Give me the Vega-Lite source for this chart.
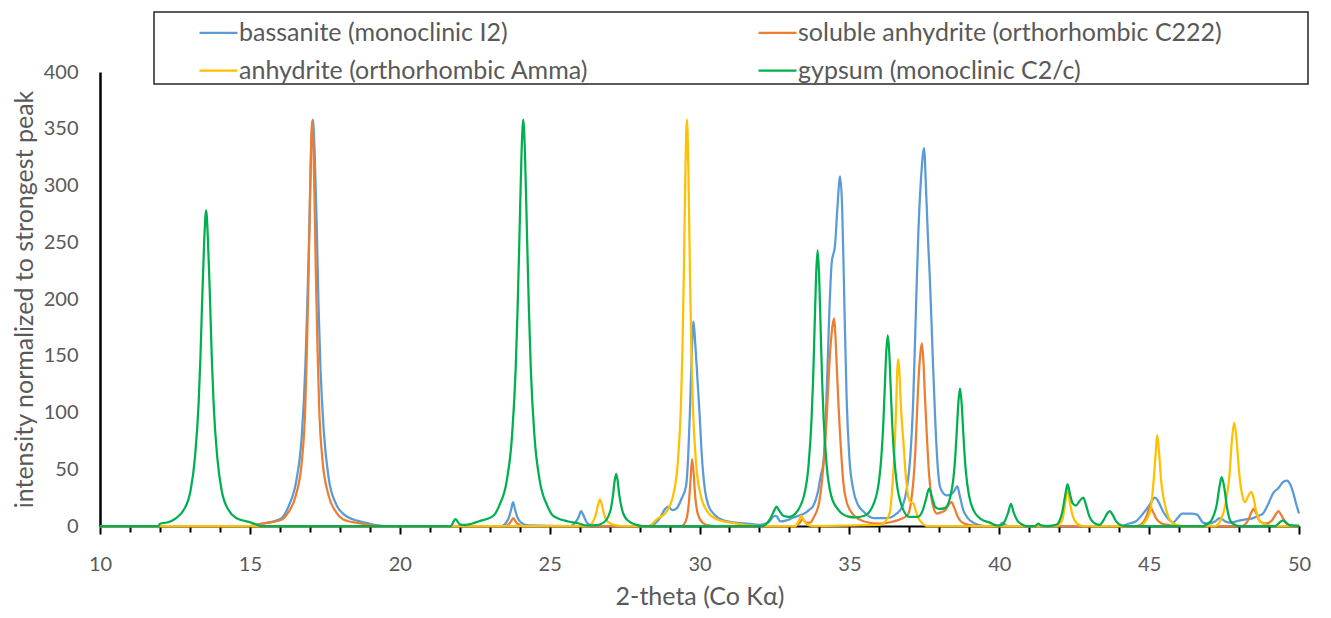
{
  "$schema": "https://vega.github.io/schema/vega-lite/v6.json",
  "width": 1199,
  "height": 454,
  "autosize": "none",
  "padding": {"left": 100, "top": 72, "right": 32, "bottom": 92},
  "config": {
    "view": {"stroke": null},
    "font": "Lato",
    "line": {"strokeWidth": 2.25, "interpolate": "monotone"},
    "legend": {"strokeWidth": 1.5}
  },
  "encoding": {
    "x": {
      "field": "x", "type": "quantitative", "title": "2-theta (Co Kα)",
      "scale": {"domain": [10, 50], "nice": false, "zero": false},
      "axis": {
        "values": [10,11,12,13,14,15,16,17,18,19,20,21,22,23,24,25,26,27,28,29,30,31,32,33,34,35,36,37,38,39,40,41,42,43,44,45,46,47,48,49,50],
        "labelExpr": "datum.value % 5 === 0 ? datum.label : ''",
        "labelFlush": false, "labelOverlap": false,
        "tickSize": {"condition": {"test": "datum.value % 5 === 0", "value": 8}, "value": 6},
        "tickColor": "#000", "tickWidth": 2, "domainColor": "#000", "domainWidth": 2,
        "grid": false, "labelFontSize": 20, "labelColor": "#595959", "labelPadding": 20,
        "titleFontSize": 25, "titleColor": "#595959", "titleFontWeight": "normal", "titlePadding": 10
      }
    },
    "y": {
      "field": "y", "type": "quantitative", "title": "intensity normalized to strongest peak",
      "scale": {"domain": [0, 400], "nice": false},
      "axis": {
        "values": [0,50,100,150,200,250,300,350,400],
        "labelFlush": false,
        "ticks": false, "grid": false, "domainColor": "#000", "domainWidth": 2.5,
        "labelFontSize": 20, "labelColor": "#595959", "labelPadding": 22,
        "titleFontSize": 25, "titleColor": "#595959", "titleFontWeight": "normal", "titlePadding": 6
      }
    }
  },
  "layer": [
    {
      "data": {"values": [
        {"x":10,"y":0},{"x":15,"y":0},{"x":15.3,"y":1.5},{"x":15.6,"y":3},{"x":15.9,"y":5},{"x":16.1,"y":8},{"x":16.3,"y":18},{"x":16.55,"y":40},{"x":16.73,"y":79},{"x":16.85,"y":140},{"x":16.91,"y":190},{"x":16.98,"y":257},{"x":17.04,"y":326},{"x":17.1,"y":358},{"x":17.16,"y":330},{"x":17.23,"y":265},{"x":17.29,"y":195},{"x":17.35,"y":143},{"x":17.47,"y":82},{"x":17.63,"y":42},{"x":17.88,"y":19},{"x":18.15,"y":10},{"x":18.6,"y":4.5},{"x":19.0,"y":2},{"x":19.3,"y":0.5},{"x":19.5,"y":0},
        {"x":23.4,"y":0},{"x":23.55,"y":3},{"x":23.65,"y":8},{"x":23.72,"y":15},{"x":23.78,"y":21},{"x":23.84,"y":15},{"x":23.92,"y":8},{"x":24.05,"y":3},{"x":24.3,"y":0.5},
        {"x":25.7,"y":0},{"x":25.85,"y":3},{"x":25.97,"y":8},{"x":26.05,"y":13},{"x":26.12,"y":10},{"x":26.22,"y":4},{"x":26.35,"y":1},{"x":26.6,"y":0},
        {"x":28.3,"y":0},{"x":28.5,"y":2},{"x":28.68,"y":7},{"x":28.85,"y":15},{"x":28.95,"y":17},{"x":29.1,"y":14},{"x":29.25,"y":16},{"x":29.4,"y":24},{"x":29.55,"y":35},{"x":29.62,"y":60},{"x":29.68,"y":100},{"x":29.74,"y":150},{"x":29.8,"y":180},{"x":29.86,"y":160},{"x":29.93,"y":130},{"x":30.0,"y":100},{"x":30.07,"y":65},{"x":30.18,"y":32},{"x":30.3,"y":18},{"x":30.5,"y":10},{"x":30.8,"y":5},{"x":31.2,"y":3},{"x":31.6,"y":2},{"x":32.0,"y":1},
        {"x":32.3,"y":3},{"x":32.45,"y":8},{"x":32.55,"y":9},{"x":32.7,"y":4},{"x":32.9,"y":5},{"x":33.1,"y":7},{"x":33.3,"y":9},{"x":33.5,"y":11},{"x":33.65,"y":14},{"x":33.8,"y":18},{"x":33.95,"y":30},{"x":34.05,"y":45},{"x":34.13,"y":55},{"x":34.22,"y":100},{"x":34.32,"y":180},{"x":34.41,"y":232},{"x":34.52,"y":247},{"x":34.6,"y":280},{"x":34.69,"y":308},{"x":34.76,"y":280},{"x":34.83,"y":200},{"x":34.91,"y":111},{"x":35.0,"y":60},{"x":35.13,"y":32},{"x":35.3,"y":18},{"x":35.46,"y":13},{"x":35.8,"y":7},{"x":36.25,"y":7},{"x":36.58,"y":11},{"x":36.78,"y":18},{"x":36.91,"y":32},{"x":37.03,"y":60},{"x":37.13,"y":111},{"x":37.22,"y":190},{"x":37.3,"y":258},{"x":37.4,"y":310},{"x":37.49,"y":333},{"x":37.56,"y":295},{"x":37.62,"y":255},{"x":37.69,"y":215},{"x":37.78,"y":150},{"x":37.86,"y":96},{"x":37.94,"y":55},{"x":38.02,"y":35},{"x":38.13,"y":29},{"x":38.25,"y":27},{"x":38.4,"y":28},{"x":38.5,"y":31},{"x":38.6,"y":35},{"x":38.68,"y":27},{"x":38.8,"y":14},{"x":38.95,"y":7},{"x":39.13,"y":3},{"x":39.3,"y":1},{"x":39.5,"y":0},
        {"x":40.0,"y":0},{"x":40.1,"y":3},{"x":40.2,"y":1},{"x":40.3,"y":0},
        {"x":44.1,"y":0},{"x":44.3,"y":2},{"x":44.55,"y":4},{"x":44.8,"y":11},{"x":45.0,"y":18},{"x":45.2,"y":25},{"x":45.3,"y":22},{"x":45.47,"y":12.6},{"x":45.65,"y":6},{"x":45.8,"y":3},{"x":45.95,"y":7},{"x":46.1,"y":11},{"x":46.4,"y":11},{"x":46.6,"y":10},{"x":46.8,"y":3},{"x":47.0,"y":2},{"x":47.2,"y":4},{"x":47.36,"y":7},{"x":47.55,"y":4},{"x":47.7,"y":3},{"x":48.03,"y":5},{"x":48.25,"y":6},{"x":48.47,"y":7},{"x":48.65,"y":9},{"x":48.8,"y":11},{"x":48.95,"y":18},{"x":49.14,"y":29},{"x":49.3,"y":33},{"x":49.48,"y":39},{"x":49.6,"y":40},{"x":49.7,"y":37},{"x":49.81,"y":29},{"x":49.9,"y":20},{"x":50.0,"y":11}
      ]},
      "mark": "line",
      "encoding": {
        "color": {
          "datum": "bassanite (monoclinic I2)", "type": "nominal",
          "scale": {
            "domain": ["bassanite (monoclinic I2)", "anhydrite (orthorhombic Amma)", "soluble anhydrite (orthorhombic C222)", "gypsum (monoclinic C2/c)"],
            "range": ["#5B9BD5", "#FFC000", "#ED7D31", "#00B050"]
          },
          "legend": {
            "title": " ", "titleOrient": "right", "titlePadding": 86, "titleFontSize": 10,
            "orient": "none", "legendX": 54, "legendY": -60, "columns": 2,
            "symbolType": "stroke", "symbolSize": 1444, "symbolStrokeWidth": 2.5, "symbolOffset": 44,
            "labelFontSize": 25, "labelColor": "#595959", "labelOffset": 0, "labelLimit": 600,
            "padding": 0, "rowPadding": 4, "columnPadding": 124,
            "strokeColor": "#262626"
          }
        }
      }
    },
    {
      "data": {"values": [
        {"x":10,"y":0},{"x":15.0,"y":0},{"x":15.3,"y":1.5},{"x":15.58,"y":2.7},{"x":16.08,"y":6},{"x":16.28,"y":12},{"x":16.54,"y":27.5},{"x":16.73,"y":56},{"x":16.85,"y":106},{"x":16.9,"y":153},{"x":16.96,"y":224},{"x":17.02,"y":311},{"x":17.08,"y":357},{"x":17.14,"y":311},{"x":17.2,"y":224},{"x":17.26,"y":153},{"x":17.31,"y":106},{"x":17.43,"y":56},{"x":17.62,"y":27.5},{"x":17.88,"y":12},{"x":18.1,"y":6},{"x":18.58,"y":2.7},{"x":19.0,"y":1},{"x":19.3,"y":0},
        {"x":23.5,"y":0},{"x":23.65,"y":2},{"x":23.73,"y":5},{"x":23.78,"y":7},{"x":23.84,"y":5},{"x":23.92,"y":2},{"x":24.1,"y":0},
        {"x":29.4,"y":0},{"x":29.55,"y":5},{"x":29.65,"y":22},{"x":29.7,"y":40},{"x":29.75,"y":59},{"x":29.8,"y":48},{"x":29.86,"y":25},{"x":29.95,"y":10},{"x":30.1,"y":3},{"x":30.3,"y":0.5},{"x":30.6,"y":0},
        {"x":33.2,"y":0},{"x":33.35,"y":3},{"x":33.45,"y":6},{"x":33.55,"y":3},{"x":33.7,"y":3},{"x":33.8,"y":7},{"x":34.0,"y":22},{"x":34.13,"y":52},{"x":34.2,"y":75},{"x":34.27,"y":110},{"x":34.35,"y":150},{"x":34.43,"y":175},{"x":34.49,"y":183},{"x":34.53,"y":170},{"x":34.58,"y":140},{"x":34.64,"y":105},{"x":34.69,"y":80},{"x":34.75,"y":55},{"x":34.8,"y":38},{"x":34.9,"y":22},{"x":35.02,"y":14},{"x":35.2,"y":8},{"x":35.5,"y":4},{"x":36.0,"y":2},{"x":36.4,"y":3.5},{"x":36.7,"y":6},{"x":36.95,"y":10},{"x":37.05,"y":20},{"x":37.13,"y":38},{"x":37.2,"y":65},{"x":37.25,"y":96},{"x":37.32,"y":135},{"x":37.38,"y":155},{"x":37.42,"y":161},{"x":37.47,"y":145},{"x":37.52,"y":115},{"x":37.58,"y":82},{"x":37.66,"y":45},{"x":37.75,"y":23},{"x":37.85,"y":13},{"x":37.92,"y":11},{"x":38.05,"y":12},{"x":38.2,"y":14},{"x":38.32,"y":19},{"x":38.41,"y":21},{"x":38.5,"y":16},{"x":38.62,"y":8},{"x":38.77,"y":3},{"x":39.0,"y":1},{"x":39.3,"y":0},
        {"x":44.6,"y":0},{"x":44.8,"y":3},{"x":44.93,"y":10},{"x":45.03,"y":17},{"x":45.12,"y":13},{"x":45.25,"y":6},{"x":45.4,"y":2.5},{"x":45.6,"y":1},{"x":46.0,"y":0},
        {"x":48.1,"y":0},{"x":48.3,"y":5},{"x":48.41,"y":12},{"x":48.48,"y":15},{"x":48.56,"y":12},{"x":48.7,"y":4},{"x":48.9,"y":2},{"x":49.1,"y":5},{"x":49.22,"y":10},{"x":49.31,"y":13},{"x":49.4,"y":10},{"x":49.55,"y":3},{"x":49.7,"y":0.5},{"x":50.0,"y":0}
      ]},
      "mark": "line",
      "encoding": {"color": {"datum": "soluble anhydrite (orthorhombic C222)", "type": "nominal"}}
    },
    {
      "data": {"values": [
        {"x":10,"y":0},{"x":26.3,"y":0},{"x":26.45,"y":4},{"x":26.55,"y":11},{"x":26.62,"y":19},{"x":26.68,"y":23.5},{"x":26.74,"y":19},{"x":26.82,"y":10},{"x":26.95,"y":3.5},{"x":27.15,"y":1},{"x":27.4,"y":0},
        {"x":28.3,"y":0},{"x":28.58,"y":6},{"x":28.88,"y":12},{"x":29.13,"y":28},{"x":29.28,"y":57},{"x":29.38,"y":106},{"x":29.43,"y":154},{"x":29.48,"y":225},{"x":29.53,"y":312},{"x":29.58,"y":358},{"x":29.63,"y":312},{"x":29.68,"y":225},{"x":29.73,"y":154},{"x":29.78,"y":106},{"x":29.88,"y":57},{"x":30.03,"y":28},{"x":30.28,"y":12},{"x":30.58,"y":6},{"x":31.08,"y":2.7},{"x":31.5,"y":1},{"x":32.0,"y":0},
        {"x":33.2,"y":0},{"x":33.3,"y":4},{"x":33.4,"y":9},{"x":33.5,"y":4},{"x":33.65,"y":0.5},{"x":33.8,"y":0},
        {"x":36.0,"y":1},{"x":36.2,"y":4},{"x":36.35,"y":12},{"x":36.42,"y":30},{"x":36.5,"y":62},{"x":36.56,"y":105},{"x":36.6,"y":138},{"x":36.63,"y":147},{"x":36.67,"y":135},{"x":36.72,"y":105},{"x":36.8,"y":75},{"x":36.88,"y":45},{"x":36.97,"y":25},{"x":37.05,"y":21},{"x":37.13,"y":20},{"x":37.22,"y":13},{"x":37.3,"y":7},{"x":37.45,"y":2},{"x":37.6,"y":0},
        {"x":41.9,"y":0},{"x":42.1,"y":5},{"x":42.2,"y":20},{"x":42.28,"y":33},{"x":42.36,"y":20},{"x":42.46,"y":8},{"x":42.6,"y":2},{"x":42.8,"y":0},
        {"x":44.7,"y":0},{"x":44.9,"y":5},{"x":45.05,"y":15},{"x":45.15,"y":40},{"x":45.22,"y":65},{"x":45.27,"y":80},{"x":45.33,"y":65},{"x":45.4,"y":40},{"x":45.5,"y":22},{"x":45.57,"y":14},{"x":45.7,"y":5},{"x":45.9,"y":1},{"x":46.1,"y":0},
        {"x":47.2,"y":0},{"x":47.4,"y":6},{"x":47.58,"y":24},{"x":47.68,"y":45},{"x":47.76,"y":75},{"x":47.84,"y":91},{"x":47.92,"y":75},{"x":48.0,"y":48},{"x":48.1,"y":28},{"x":48.2,"y":21},{"x":48.3,"y":26},{"x":48.4,"y":30},{"x":48.48,"y":25},{"x":48.58,"y":12},{"x":48.7,"y":4},{"x":48.9,"y":1},{"x":49.1,"y":0},{"x":50.0,"y":0}
      ]},
      "mark": "line",
      "encoding": {"color": {"datum": "anhydrite (orthorhombic Amma)", "type": "nominal"}}
    },
    {
      "data": {"values": [
        {"x":10,"y":0},{"x":11.95,"y":0},{"x":12.0,"y":2},{"x":12.3,"y":3.5},{"x":12.54,"y":7},{"x":12.79,"y":14},{"x":13.02,"y":31},{"x":13.17,"y":61},{"x":13.29,"y":108},{"x":13.35,"y":148},{"x":13.41,"y":200},{"x":13.48,"y":253},{"x":13.54,"y":278},{"x":13.6,"y":253},{"x":13.67,"y":200},{"x":13.73,"y":148},{"x":13.79,"y":108},{"x":13.91,"y":61},{"x":14.06,"y":31},{"x":14.29,"y":14},{"x":14.54,"y":7},{"x":15.04,"y":3},{"x":15.25,"y":1},{"x":15.35,"y":0},
        {"x":21.7,"y":0},{"x":21.86,"y":6},{"x":22.0,"y":1.5},{"x":22.2,"y":1},{"x":22.4,"y":2},{"x":22.62,"y":4},{"x":23.12,"y":9},{"x":23.32,"y":18},{"x":23.57,"y":40},{"x":23.745,"y":79},{"x":23.87,"y":140},{"x":23.93,"y":190},{"x":23.995,"y":257},{"x":24.06,"y":326},{"x":24.12,"y":358},{"x":24.18,"y":326},{"x":24.245,"y":257},{"x":24.31,"y":190},{"x":24.37,"y":140},{"x":24.495,"y":79},{"x":24.67,"y":40},{"x":24.92,"y":18},{"x":25.12,"y":9},{"x":25.62,"y":4},{"x":26.0,"y":2},{"x":26.2,"y":0.5},{"x":26.5,"y":0.5},
        {"x":26.8,"y":3},{"x":26.95,"y":8},{"x":27.05,"y":16},{"x":27.12,"y":28},{"x":27.17,"y":40},{"x":27.22,"y":46},{"x":27.27,"y":40},{"x":27.32,"y":28},{"x":27.42,"y":14},{"x":27.6,"y":5},{"x":27.9,"y":1},{"x":28.1,"y":0},
        {"x":32.1,"y":0},{"x":32.35,"y":6},{"x":32.5,"y":14},{"x":32.57,"y":17},{"x":32.65,"y":14},{"x":32.8,"y":9},{"x":33.0,"y":8},{"x":33.2,"y":11},{"x":33.49,"y":27},{"x":33.64,"y":54},{"x":33.74,"y":95},{"x":33.79,"y":129},{"x":33.84,"y":175},{"x":33.89,"y":221},{"x":33.94,"y":243},{"x":33.99,"y":221},{"x":34.04,"y":175},{"x":34.09,"y":129},{"x":34.14,"y":95},{"x":34.24,"y":54},{"x":34.39,"y":27},{"x":34.64,"y":14},{"x":34.94,"y":8.5},{"x":35.2,"y":7.5},{"x":35.5,"y":9},{"x":35.75,"y":16},{"x":35.98,"y":38},{"x":36.08,"y":66},{"x":36.13,"y":89},{"x":36.18,"y":121},{"x":36.23,"y":153},{"x":36.28,"y":168},{"x":36.33,"y":153},{"x":36.38,"y":121},{"x":36.43,"y":89},{"x":36.48,"y":66},{"x":36.58,"y":38},{"x":36.73,"y":19},{"x":37.0,"y":8},{"x":37.28,"y":8},{"x":37.45,"y":14},{"x":37.56,"y":24},{"x":37.66,"y":33},{"x":37.76,"y":25},{"x":37.86,"y":17},{"x":38.0,"y":15},{"x":38.2,"y":16},{"x":38.35,"y":24},{"x":38.49,"y":47},{"x":38.54,"y":64},{"x":38.59,"y":87},{"x":38.64,"y":110},{"x":38.69,"y":121},{"x":38.74,"y":110},{"x":38.79,"y":87},{"x":38.84,"y":64},{"x":38.89,"y":47},{"x":38.99,"y":27},{"x":39.14,"y":14},{"x":39.39,"y":6},{"x":39.69,"y":3},{"x":39.9,"y":0.5},
        {"x":40.1,"y":1},{"x":40.2,"y":5},{"x":40.3,"y":12},{"x":40.39,"y":19.5},{"x":40.48,"y":12},{"x":40.6,"y":5},{"x":40.75,"y":1.5},{"x":40.9,"y":0},{"x":41.2,"y":0},{"x":41.3,"y":2},{"x":41.4,"y":0.5},{"x":41.6,"y":0},
        {"x":41.9,"y":1},{"x":42.0,"y":4},{"x":42.1,"y":12},{"x":42.2,"y":27},{"x":42.28,"y":37},{"x":42.36,"y":28},{"x":42.45,"y":20},{"x":42.56,"y":18},{"x":42.68,"y":22},{"x":42.8,"y":25},{"x":42.9,"y":18},{"x":43.0,"y":9},{"x":43.15,"y":3},{"x":43.35,"y":1},{"x":43.5,"y":6},{"x":43.6,"y":11},{"x":43.69,"y":13},{"x":43.78,"y":10},{"x":43.9,"y":4},{"x":44.08,"y":0.5},{"x":44.3,"y":0},
        {"x":46.8,"y":0},{"x":46.95,"y":2},{"x":47.1,"y":6},{"x":47.25,"y":18},{"x":47.35,"y":35},{"x":47.42,"y":43},{"x":47.5,"y":35},{"x":47.6,"y":16},{"x":47.7,"y":5},{"x":47.85,"y":1},{"x":48.0,"y":0},
        {"x":49.2,"y":0},{"x":49.35,"y":3},{"x":49.46,"y":5},{"x":49.57,"y":3},{"x":49.7,"y":0.5},{"x":50.0,"y":0}
      ]},
      "mark": "line",
      "encoding": {"color": {"datum": "gypsum (monoclinic C2/c)", "type": "nominal"}}
    },
    {
      "data": {"values": [{"t":10},{"t":15},{"t":20},{"t":25},{"t":30},{"t":35},{"t":40},{"t":45},{"t":50}]},
      "mark": {"type": "rule", "color": "#000", "strokeWidth": 2},
      "encoding": {
        "x": {"field": "t", "type": "quantitative", "title": "2-theta (Co Kα)"},
        "y": {"datum": 0},
        "y2": {"datum": 7}
      }
    }
  ]
}
